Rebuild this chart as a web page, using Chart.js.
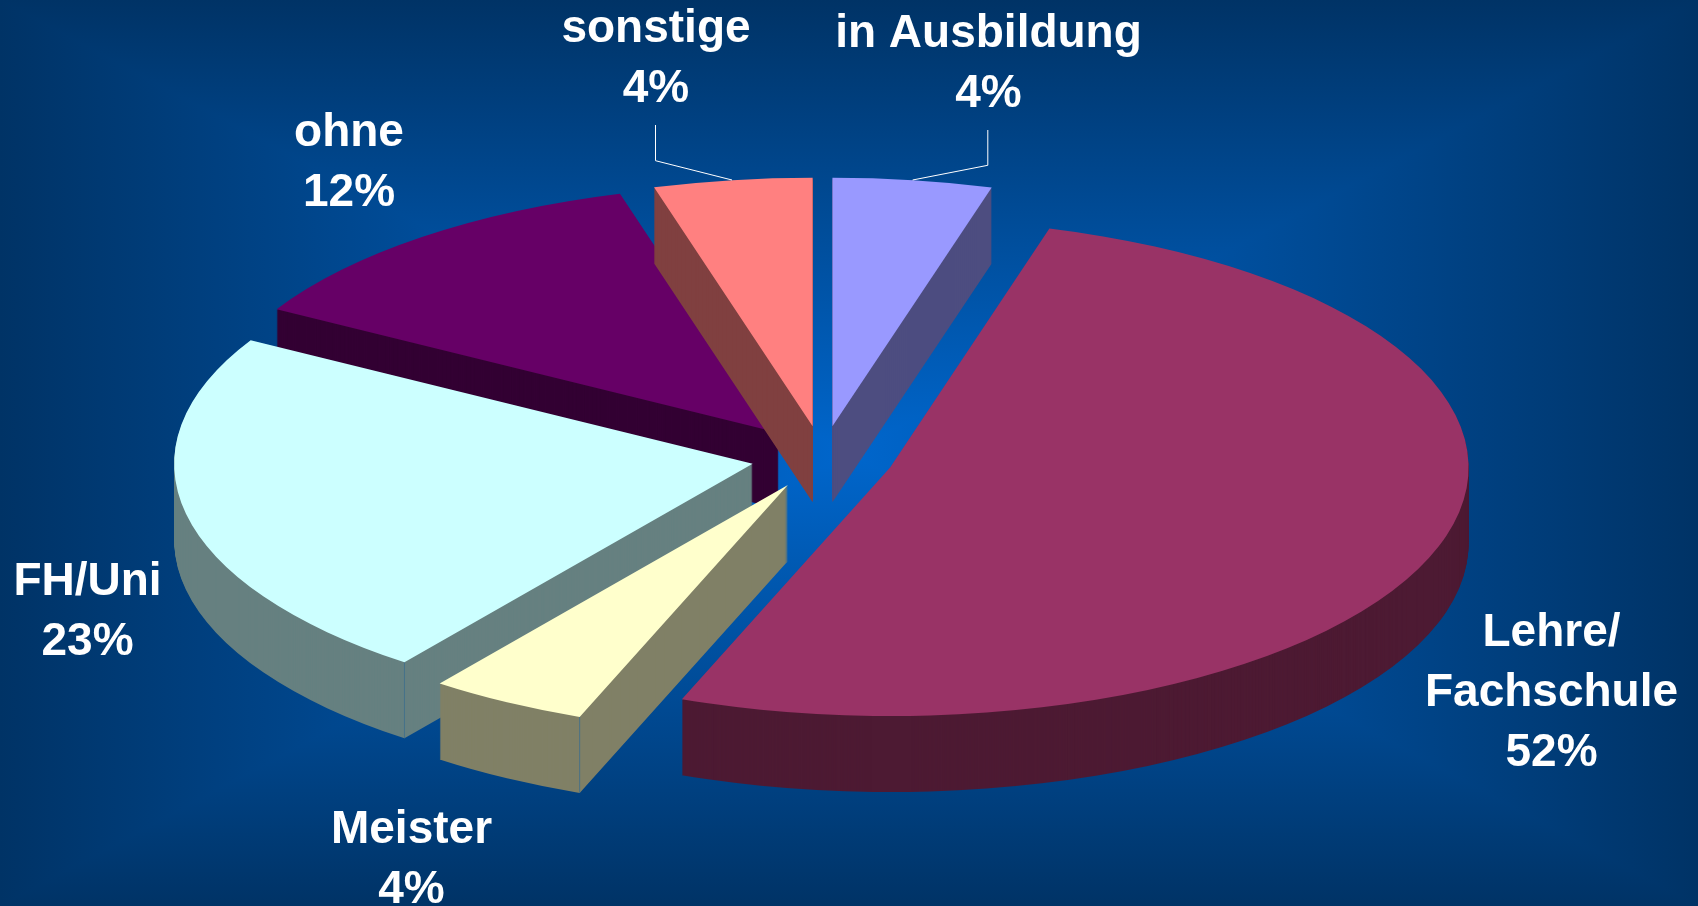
<!DOCTYPE html>
<html lang="de">
<head>
<meta charset="utf-8">
<title>Ausbildung</title>
<script src="https://cdn.jsdelivr.net/npm/chart.js@4/dist/chart.umd.min.js"></script>
<style>
html,body{margin:0;padding:0;width:1698px;height:906px;overflow:hidden}
body{
  background-image:
    linear-gradient(90deg,#003366 0%,#0066CC 50%,#003366 100%),
    linear-gradient(180deg,#003366 0%,#0066CC 50%,#003366 100%);
  background-blend-mode:darken;
}
canvas{display:block}
</style>
</head>
<body>
<canvas id="c" width="1698" height="906"></canvas>
<script>
const categories = ['in Ausbildung','Lehre/\nFachschule','Meister','FH/Uni','ohne','sonstige'];
const percentLabels = ['4%','52%','4%','23%','12%','4%'];
const shares = [4.44,51.42,4.42,23.0,12.3,4.42];
const topColors = ['#9999FF','#993366','#FFFFCC','#CCFFFF','#660066','#FF8080'];
const wallColors = ['#4D4D80','#4D1A33','#808066','#668080','#330033','#804040'];

// layout of the tilted pie
const centerX = 822.5, centerY = 457.5;
const radiusX = 578.5, radiusY = 248.5;
const explodeX = 71.3, explodeY = 31.5, depth = 76;
const paintOrder = [4,5,0,3,2,1];
const ridgeSlices = [2,3];
const labelAnchors = [[988.5,46.7],[1551.5,646],[411.5,843.3],[87.5,595],[349,146],[656,41.7]];
const leaders = {
  0:[[987.8,130],[987.8,165.3],[912.6,180]],
  5:[[655.5,125],[655.5,160.7],[732,180]]
};

const pie3d = {
  id:'pie3d',
  beforeDatasetsDraw(chart){
    const ctx = chart.ctx;
    const arcs = chart.getDatasetMeta(0).data;
    const drawSlice = (arc,color,shift) => {
      const mid = (arc.startAngle+arc.endAngle)/2;
      const r = arc.outerRadius, sx = radiusX/r, sy = radiusY/r;
      const saved = arc.options;
      arc.options = Object.assign({},saved,{backgroundColor:color});
      ctx.save();
      ctx.translate(centerX+Math.cos(mid)*explodeX, centerY+Math.sin(mid)*explodeY+shift);
      ctx.scale(sx,sy);
      ctx.translate(-arc.x,-arc.y);
      arc.draw(ctx);
      ctx.restore();
      arc.options = saved;
    };
    paintOrder.forEach(i=>{
      const arc = arcs[i];
      for(let d=depth;d>0;d--) drawSlice(arc,wallColors[i],d);
      if(ridgeSlices.includes(i)){
        const mid=(arc.startAngle+arc.endAngle)/2;
        const x=centerX+Math.cos(mid)*explodeX+Math.cos(arc.startAngle)*radiusX;
        const y=centerY+Math.sin(mid)*explodeY+Math.sin(arc.startAngle)*radiusY;
        ctx.save();
        ctx.strokeStyle='rgba(60,110,140,0.8)';
        ctx.lineWidth=1;
        ctx.beginPath();ctx.moveTo(x,y);ctx.lineTo(x,y+depth);ctx.stroke();
        ctx.restore();
      }
      drawSlice(arc,topColors[i],0);
    });
    return false;
  },
  afterDraw(chart){
    const ctx = chart.ctx;
    ctx.save();
    ctx.strokeStyle='#FFFFFF';
    ctx.lineWidth=1;
    Object.values(leaders).forEach(pts=>{
      ctx.beginPath();
      pts.forEach((p,k)=>k?ctx.lineTo(p[0],p[1]):ctx.moveTo(p[0],p[1]));
      ctx.stroke();
    });
    ctx.fillStyle='#FFFFFF';
    ctx.font='bold 46px "Liberation Sans", Arial, sans-serif';
    ctx.textAlign='center';
    ctx.textBaseline='alphabetic';
    categories.forEach((name,i)=>{
      const lines = name.split('\n').concat(percentLabels[i]);
      lines.forEach((t,k)=>ctx.fillText(t,labelAnchors[i][0],labelAnchors[i][1]+k*60));
    });
    ctx.restore();
  }
};

new Chart(document.getElementById('c'),{
  type:'pie',
  data:{labels:categories,datasets:[{data:shares,backgroundColor:topColors,borderWidth:0,hoverOffset:0}]},
  options:{
    responsive:false,
    animation:false,
    events:[],
    layout:{padding:0},
    plugins:{legend:{display:false},tooltip:{enabled:false}}
  },
  plugins:[pie3d]
});
</script>
</body>
</html>
